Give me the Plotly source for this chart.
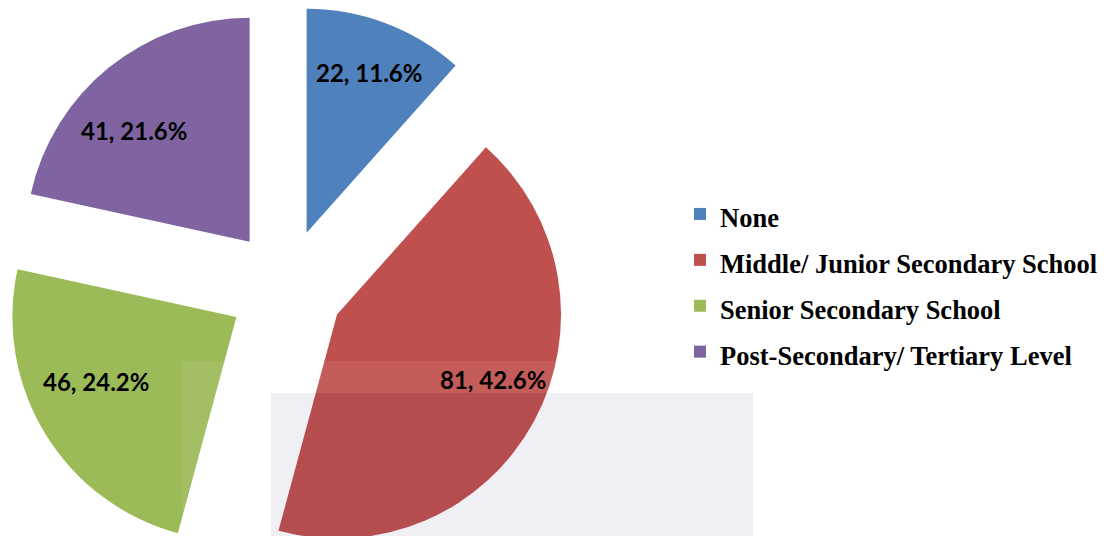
import math
import plotly.graph_objects as go

# Highest level of education attained by respondents
levels = [
    "None",
    "Middle/ Junior Secondary School",
    "Senior Secondary School",
    "Post-Secondary/ Tertiary Level",
]
counts = [22, 81, 46, 41]
colors = ["#4F81BD", "#C0504D", "#9BBB59", "#8064A2"]

W, H = 1109, 600
PULL = 0.259
# pie box in pixels (left, top, size)
BOX_L, BOX_T, BOX = 4, 5, 564
# small pixel nudges for the data labels (dx, dy)
LABEL_NUDGE = [(4, -7), (12, -13), (-1, -20), (-13, 16)]

fig = go.Figure(
    go.Pie(
        labels=[f'<span style="font-size:26.5px">{s}</span>' for s in levels],
        values=counts,
        sort=False,
        direction="clockwise",
        rotation=0,
        pull=[PULL] * len(counts),
        marker=dict(colors=colors, line=dict(width=0)),
        textinfo="none",
        hoverinfo="skip",
        domain=dict(x=[BOX_L / W, (BOX_L + BOX) / W],
                    y=[(H - BOX_T - BOX) / H, (H - BOX_T) / H]),
    )
)

# data labels "count, share" placed along each slice's bisector
total = sum(counts)
r = BOX / (2 + 2 * PULL)
cx, cy = BOX_L + BOX / 2, BOX_T + BOX / 2
start = 0.0
for v, (nx, ny) in zip(counts, LABEL_NUDGE):
    span = 360.0 * v / total
    mid = math.radians(start + span / 2)
    d = PULL * r + 0.73 * r
    px = cx + d * math.sin(mid) + nx
    py = cy - d * math.cos(mid) + ny
    fig.add_annotation(
        x=px / W, y=(H - py) / H, xref="paper", yref="paper",
        text=f"{v}, {v / total * 100:.1f}%", showarrow=False,
        xanchor="center", yanchor="middle",
        font=dict(family="Lato", size=24, color="#000000", weight="bold"),
    )
    start += span

# faint scanned watermark over the lower part of the page
def rect(x0, x1, y0, y1, color):
    fig.add_shape(type="rect", xref="paper", yref="paper",
                  x0=x0 / W, x1=x1 / W, y0=(H - y1) / H, y1=(H - y0) / H,
                  fillcolor=color, line=dict(width=0), layer="above")

haze = "rgba(255,255,255,0.07)"
rect(182, 835, 361, 393, haze)
rect(182, 271, 393, H, haze)
rect(753, 835, 393, H, haze)
rect(271, 753, 393, H, "rgba(55,55,117,0.08)")

fig.update_layout(
    width=W,
    height=H,
    margin=dict(l=0, r=0, t=0, b=0),
    paper_bgcolor="#FFFFFF",
    plot_bgcolor="#FFFFFF",
    showlegend=True,
    legend=dict(
        x=680 / W,
        y=(H - 186) / H,
        xanchor="left",
        yanchor="top",
        font=dict(family="Liberation Serif", size=33, color="#000000", weight="bold"),
        bgcolor="rgba(0,0,0,0)",
    ),
)

fig.write_html("out.html", post_script="document.body.style.overflow='hidden';")
